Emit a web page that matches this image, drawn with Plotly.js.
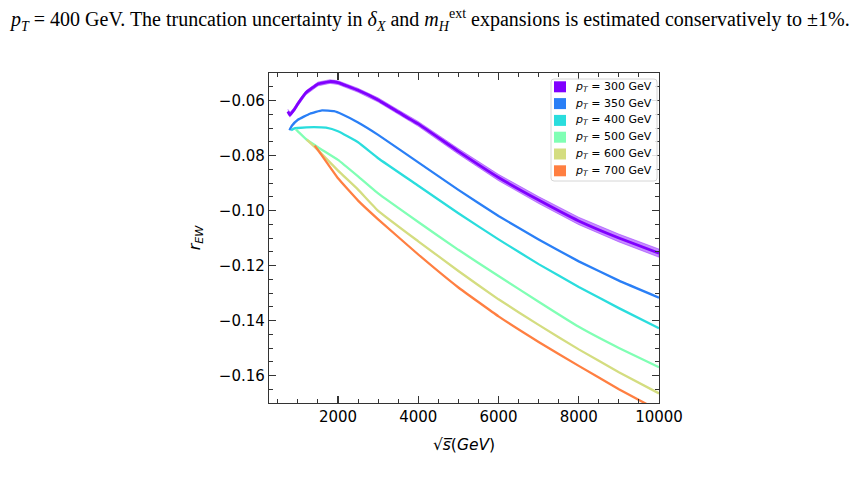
<!DOCTYPE html>
<html>
<head>
<meta charset="utf-8">
<script src="https://cdn.plot.ly/plotly-3.0.1.min.js"></script>
<style>html,body{margin:0;padding:0;background:#fff;}#chart{width:852px;height:488px;}</style>
</head>
<body>
<div id="chart"></div>
<script>
// sqrt(s) [GeV] and r_EW values for each pT
const x300 = [750, 800, 900, 1000, 1200, 1500, 1800, 2000, 2500, 3000, 3500, 4000, 5000, 6000, 7000, 8000, 9000, 10000];
const y300 = [-0.0640, -0.0652, -0.0635, -0.0612, -0.0572, -0.0540, -0.0531, -0.0535, -0.0563, -0.0598, -0.0642, -0.0685, -0.0785, -0.0880, -0.0962, -0.1038, -0.1100, -0.1155];

const x350 = [790, 850, 1000, 1300, 1600, 1900, 2100, 2500, 3000, 4000, 5000, 6000, 7000, 8000, 9000, 10000];
const y350 = [-0.0708, -0.0692, -0.0670, -0.0648, -0.0636, -0.0639, -0.0650, -0.0680, -0.0725, -0.0825, -0.0925, -0.1020, -0.1105, -0.1185, -0.1255, -0.1317];

const x400 = [830, 900, 1000, 1400, 1700, 2000, 2500, 3000, 4000, 5000, 6000, 7000, 8000, 9000, 10000];
const y400 = [-0.0708, -0.0702, -0.0700, -0.0697, -0.0699, -0.0712, -0.0752, -0.0810, -0.0910, -0.1010, -0.1105, -0.1195, -0.1278, -0.1355, -0.1428];

const x500 = [950, 1000, 1200, 1500, 2000, 2500, 3000, 4000, 5000, 6000, 7000, 8000, 9000, 10000];
const y500 = [-0.0705, -0.0712, -0.0740, -0.0770, -0.0816, -0.0876, -0.0938, -0.1042, -0.1143, -0.1238, -0.1332, -0.1423, -0.1500, -0.1570];

const x600 = [1220, 1500, 2000, 2500, 3000, 4000, 5000, 6000, 7000, 8000, 9000, 10000];
const y600 = [-0.0742, -0.0780, -0.0855, -0.0924, -0.1001, -0.1112, -0.1220, -0.1323, -0.1416, -0.1505, -0.1588, -0.1665];

const x700 = [1420, 1500, 2000, 2500, 3000, 4000, 5000, 6000, 7000, 8000, 9000, 10000];
const y700 = [-0.0764, -0.0780, -0.0883, -0.0964, -0.1032, -0.1160, -0.1280, -0.1385, -0.1478, -0.1565, -0.1650, -0.1728];

const ptLabels = ['300', '350', '400', '500', '600', '700'];
const colors = ['#8000ff', '#2a7ff6', '#2adddd', '#80ffb4', '#d4dd80', '#ff7f41'];
const bandRel = 0.013; // relative uncertainty band drawn around the pT=300 curve

const xs = [x300, x350, x400, x500, x600, x700];
const ys = [y300, y350, y400, y500, y600, y700];

const traces = [];
const upper = y300.map(v => v * (1 - bandRel));
const lower = y300.map(v => v * (1 + bandRel));
traces.push({
  x: x300.concat(x300.slice().reverse()),
  y: upper.concat(lower.slice().reverse()),
  mode: 'lines', fill: 'toself', fillcolor: 'rgba(128,0,255,0.45)',
  line: {width: 0.8, color: 'rgba(128,0,255,0.45)'}, showlegend: false, hoverinfo: 'skip'
});
for (let i = 0; i < 6; i++) {
  traces.push({
    x: xs[i], y: ys[i], mode: 'lines',
    line: {color: colors[i], width: i === 0 ? 2.8 : 2.3, shape: 'spline', smoothing: 0.3},
    showlegend: false
  });
}

// plot area in pixels: x 269..659, y 73..403
const PX = px => (px - 269) / 390;
const PY = py => (403 - py) / 330;

// hand-drawn legend (matches the reference's compact matplotlib legend)
const shapes = [];
const annotations = [];
const bx0 = 551, bx1 = 657, by0 = 79, by1 = 181, r = 3;
shapes.push({
  type: 'path', xref: 'paper', yref: 'paper', layer: 'above',
  path: `M ${PX(bx0 + r)},${PY(by0)} L ${PX(bx1 - r)},${PY(by0)} Q ${PX(bx1)},${PY(by0)} ${PX(bx1)},${PY(by0 + r)} ` +
        `L ${PX(bx1)},${PY(by1 - r)} Q ${PX(bx1)},${PY(by1)} ${PX(bx1 - r)},${PY(by1)} ` +
        `L ${PX(bx0 + r)},${PY(by1)} Q ${PX(bx0)},${PY(by1)} ${PX(bx0)},${PY(by1 - r)} ` +
        `L ${PX(bx0)},${PY(by0 + r)} Q ${PX(bx0)},${PY(by0)} ${PX(bx0 + r)},${PY(by0)} Z`,
  fillcolor: 'rgba(255,255,255,0.85)', line: {color: '#d6d6d6', width: 1}
});
for (let i = 0; i < 6; i++) {
  const cy = 86.8 + 16.8 * i;
  shapes.push({
    type: 'rect', xref: 'paper', yref: 'paper', layer: 'above',
    x0: PX(554), x1: PX(566), y0: PY(cy - 5.5), y1: PY(cy + 5.5),
    fillcolor: colors[i], line: {width: 0}
  });
  annotations.push({
    xref: 'paper', yref: 'paper', x: PX(573), y: PY(cy), xanchor: 'left', yanchor: 'middle',
    showarrow: false, text: '<i>p</i><sub><i>T</i></sub> = ' + ptLabels[i] + ' GeV',
    font: {family: 'DejaVu Sans', size: 11, color: '#000'}
  });
}
annotations.push({
  xref: 'paper', yref: 'paper', x: PX(7), y: PY(20),
  xanchor: 'left', yanchor: 'middle', showarrow: false,
  text: '<i>p</i><sub><i>T</i></sub> = 400 GeV. The truncation uncertainty in <i>δ</i><sub><i>X</i></sub> and <i>m</i><sub><i>H</i></sub><sup>ext</sup> expansions is estimated conservatively to ±1%.',
  font: {family: 'Liberation Serif', size: 20, color: '#000'}
});

const axisCommon = {
  showline: true, linecolor: '#333', linewidth: 1.2, mirror: 'allticks',
  ticks: 'inside', ticklen: 7, tickwidth: 1.2, tickcolor: '#333',
  showgrid: false, zeroline: false,
  tickfont: {family: 'DejaVu Sans', size: 15, color: '#000'}
};

const layout = {
  width: 852, height: 488,
  margin: {l: 269, r: 193, t: 73, b: 85},
  paper_bgcolor: '#fff', plot_bgcolor: '#fff',
  showlegend: false,
  xaxis: Object.assign({}, axisCommon, {
    range: [280, 10000], tick0: 0, dtick: 2000, tickformat: 'd',
    minor: {dtick: 500, tick0: 0, ticks: 'inside', ticklen: 4, tickwidth: 1, tickcolor: '#333'},
    title: {text: '√<i>s̅</i>(<i>GeV</i>)', font: {family: 'DejaVu Sans', size: 15.5, color: '#000'}, standoff: 14}
  }),
  yaxis: Object.assign({}, axisCommon, {
    range: [-0.17, -0.05], tick0: 0, dtick: 0.02, tickformat: '.2f',
    minor: {dtick: 0.005, tick0: 0, ticks: 'inside', ticklen: 4, tickwidth: 1, tickcolor: '#333'},
    title: {text: '<i>r</i><sub><i>EW</i></sub>', font: {family: 'DejaVu Sans', size: 16, color: '#000'}, standoff: 14}
  }),
  shapes: shapes,
  annotations: annotations
};

Plotly.newPlot('chart', traces, layout, {displayModeBar: false, staticPlot: true});
</script>
</body>
</html>
